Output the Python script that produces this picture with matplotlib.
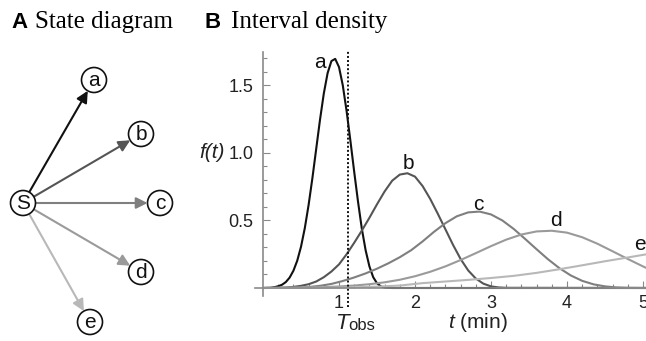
import matplotlib
matplotlib.use("Agg")
import matplotlib.pyplot as plt
from matplotlib.patches import Circle
from matplotlib.ticker import FixedLocator

plt.rcParams['font.family'] = ['Liberation Sans', 'DejaVu Sans']
plt.rcParams['mathtext.fontset'] = 'custom'
plt.rcParams['mathtext.rm'] = 'Liberation Sans'
plt.rcParams['mathtext.it'] = 'Liberation Sans:italic'

# interval densities f(t) for the five end states
t_a = [0.0, 0.10, 0.15, 0.20, 0.25, 0.30, 0.35, 0.40, 0.45, 0.50, 0.55, 0.60, 0.65, 0.70,
       0.75, 0.80, 0.85, 0.90, 0.95, 1.00, 1.05, 1.10, 1.15, 1.20, 1.25, 1.30, 1.35, 1.40,
       1.45, 1.50, 1.55, 1.60, 1.70, 5.05]
f_a = [0, 0.001, 0.006, 0.013, 0.024, 0.044, 0.077, 0.128, 0.202, 0.306, 0.444, 0.616,
       0.815, 1.031, 1.247, 1.441, 1.592, 1.681, 1.697, 1.636, 1.50, 1.31, 1.09, 0.86,
       0.64, 0.44, 0.28, 0.16, 0.08, 0.035, 0.012, 0.003, 0, 0]

t_b = [0.0, 0.3, 0.4, 0.5, 0.6, 0.7, 0.8, 0.9, 1.0, 1.1, 1.2, 1.3, 1.4, 1.5, 1.6, 1.7, 1.8,
       1.9, 2.0, 2.1, 2.2, 2.3, 2.4, 2.5, 2.6, 2.7, 2.8, 2.9, 3.0, 3.1, 3.2, 5.05]
f_b = [0, 0.003, 0.008, 0.016, 0.028, 0.048, 0.08, 0.122, 0.175, 0.25, 0.335, 0.425, 0.52,
       0.62, 0.715, 0.795, 0.84, 0.85, 0.825, 0.755, 0.66, 0.55, 0.435, 0.32, 0.215, 0.13,
       0.07, 0.032, 0.012, 0.004, 0.001, 0]

t_c = [0.0, 0.45, 0.6, 0.75, 0.9, 1.05, 1.2, 1.35, 1.5, 1.65, 1.8, 1.95, 2.1, 2.25, 2.4,
       2.55, 2.7, 2.85, 3.0, 3.15, 3.3, 3.45, 3.6, 3.75, 3.9, 4.05, 4.2, 4.35, 4.5, 4.65,
       4.8, 5.05]
f_c = [0, 0.002, 0.007, 0.016, 0.03, 0.052, 0.078, 0.108, 0.143, 0.183, 0.228, 0.28, 0.345,
       0.416, 0.48, 0.531, 0.56, 0.566, 0.545, 0.50, 0.437, 0.363, 0.287, 0.213, 0.147,
       0.093, 0.053, 0.027, 0.012, 0.004, 0.001, 0]

t_d = [0.0, 0.6, 0.8, 1.0, 1.2, 1.4, 1.6, 1.8, 2.0, 2.2, 2.4, 2.6, 2.8, 3.0, 3.2, 3.4, 3.6,
       3.8, 4.0, 4.2, 4.4, 4.6, 4.8, 5.0, 5.05]
f_d = [0, 0.003, 0.006, 0.011, 0.018, 0.028, 0.042, 0.061, 0.087, 0.12, 0.16, 0.207, 0.258,
       0.31, 0.358, 0.396, 0.419, 0.424, 0.41, 0.376, 0.328, 0.272, 0.215, 0.16, 0.147]

t_e = [0.0, 0.9, 1.2, 1.5, 1.8, 2.1, 2.4, 2.7, 3.0, 3.3, 3.6, 3.9, 4.2, 4.5, 4.8, 5.05]
f_e = [0, 0.002, 0.005, 0.01, 0.018, 0.036, 0.048, 0.06, 0.074, 0.09, 0.112, 0.139, 0.168,
       0.198, 0.226, 0.25]

states = ['a', 'b', 'c', 'd', 'e']
t_obs = 1.12
x_ticks = [1, 2, 3, 4, 5]
y_ticks = [0.5, 1.0, 1.5]

shades = ['#111111', '#555555', '#7f7f7f', '#9a9a9a', '#b8b8b8']
curves = [(t_a, f_a), (t_b, f_b), (t_c, f_c), (t_d, f_d), (t_e, f_e)]
# label anchor per curve (data coords)
label_pos = [(0.75, 1.67), (1.91, 0.92), (2.83, 0.62), (3.86, 0.50), (4.96, 0.32)]

fig = plt.figure(figsize=(6.46, 3.41), dpi=100)

# panel A: drawn in pixel coordinates over the whole figure
dg = fig.add_axes([0, 0, 1, 1])
dg.set_xlim(0, 646)
dg.set_ylim(341, 0)
dg.axis('off')

dg.text(11, 28, 'A', fontsize=16, fontweight='bold', va='baseline')
dg.text(35, 28, 'State diagram', fontsize=18, family='Liberation Serif', va='baseline')
dg.text(205, 28, 'B', fontsize=16, fontweight='bold', va='baseline')
dg.text(231, 28, 'Interval density', fontsize=18, family='Liberation Serif', va='baseline')

src = (23, 203)
node_xy = [(94, 80), (141, 134), (160, 203), (141, 272), (90, 322)]
r = 12.5
for name, (x, y), col in zip(states, node_xy, shades):
    dg.annotate('', xy=(x, y), xytext=src,
                arrowprops=dict(arrowstyle='-|>', color=col, lw=1.5,
                                mutation_scale=17, shrinkA=9, shrinkB=9))
for name, (x, y) in zip(['S'] + states, [src] + node_xy):
    dg.add_patch(Circle((x, y), r, facecolor='white', edgecolor='#111111', lw=1.2, zorder=3))
    dg.text(x, y + 0.5, name, fontsize=15, ha='center', va='center', color='#111111', zorder=4)

# panel B
ax = fig.add_axes([0.3954, 0.1317, 0.6046, 0.7166])
ax.patch.set_alpha(0)
ax.set_xlim(-0.1, 5.04)
ax.set_ylim(-0.06, 1.75)

for (t, f), col in zip(curves, shades):
    ax.plot(t, f, color=col, lw=1.5, solid_capstyle='round')
for name, (x, y) in zip(states, label_pos):
    ax.text(x, y, name, fontsize=15, ha='center', va='center', color='#111111')

ax.plot([t_obs, t_obs], [-0.14, 1.76], color='#111111', lw=1.4,
        linestyle=(0, (1, 1.1)), clip_on=False)

for side in ['top', 'right']:
    ax.spines[side].set_visible(False)
for side in ['left', 'bottom']:
    ax.spines[side].set_position(('data', 0))
    ax.spines[side].set_color('#8a8a8a')
    ax.spines[side].set_linewidth(1.2)

ax.xaxis.set_major_locator(FixedLocator(x_ticks))
ax.xaxis.set_minor_locator(FixedLocator([i * 0.2 for i in range(1, 26) if i % 5]))
ax.yaxis.set_major_locator(FixedLocator(y_ticks))
ax.yaxis.set_minor_locator(FixedLocator([i * 0.1 for i in range(1, 18) if i % 5]))
ax.set_xticklabels([str(v) for v in x_ticks])
ax.set_yticklabels([f'{v:.1f}' for v in y_ticks])
ax.tick_params(which='both', direction='in', color='#8a8a8a', width=0.8,
               labelsize=13, labelcolor='#222222')
ax.tick_params(axis='x', which='major', length=5, pad=5)
ax.tick_params(axis='y', which='major', length=5, pad=7)
ax.tick_params(which='minor', length=3)

dg.text(212, 153, 'f(t)', fontsize=15, style='italic', ha='center', va='center', color='#222222')
dg.text(478, 323, '$t$ (min)', fontsize=15, ha='center', va='center', color='#222222')
dg.text(343, 329, 'T', fontsize=16, style='italic', ha='center', va='baseline', color='#222222')
dg.text(348, 330, 'obs', fontsize=12, ha='left', va='baseline', color='#222222')

fig.savefig('out.png', dpi=100)
